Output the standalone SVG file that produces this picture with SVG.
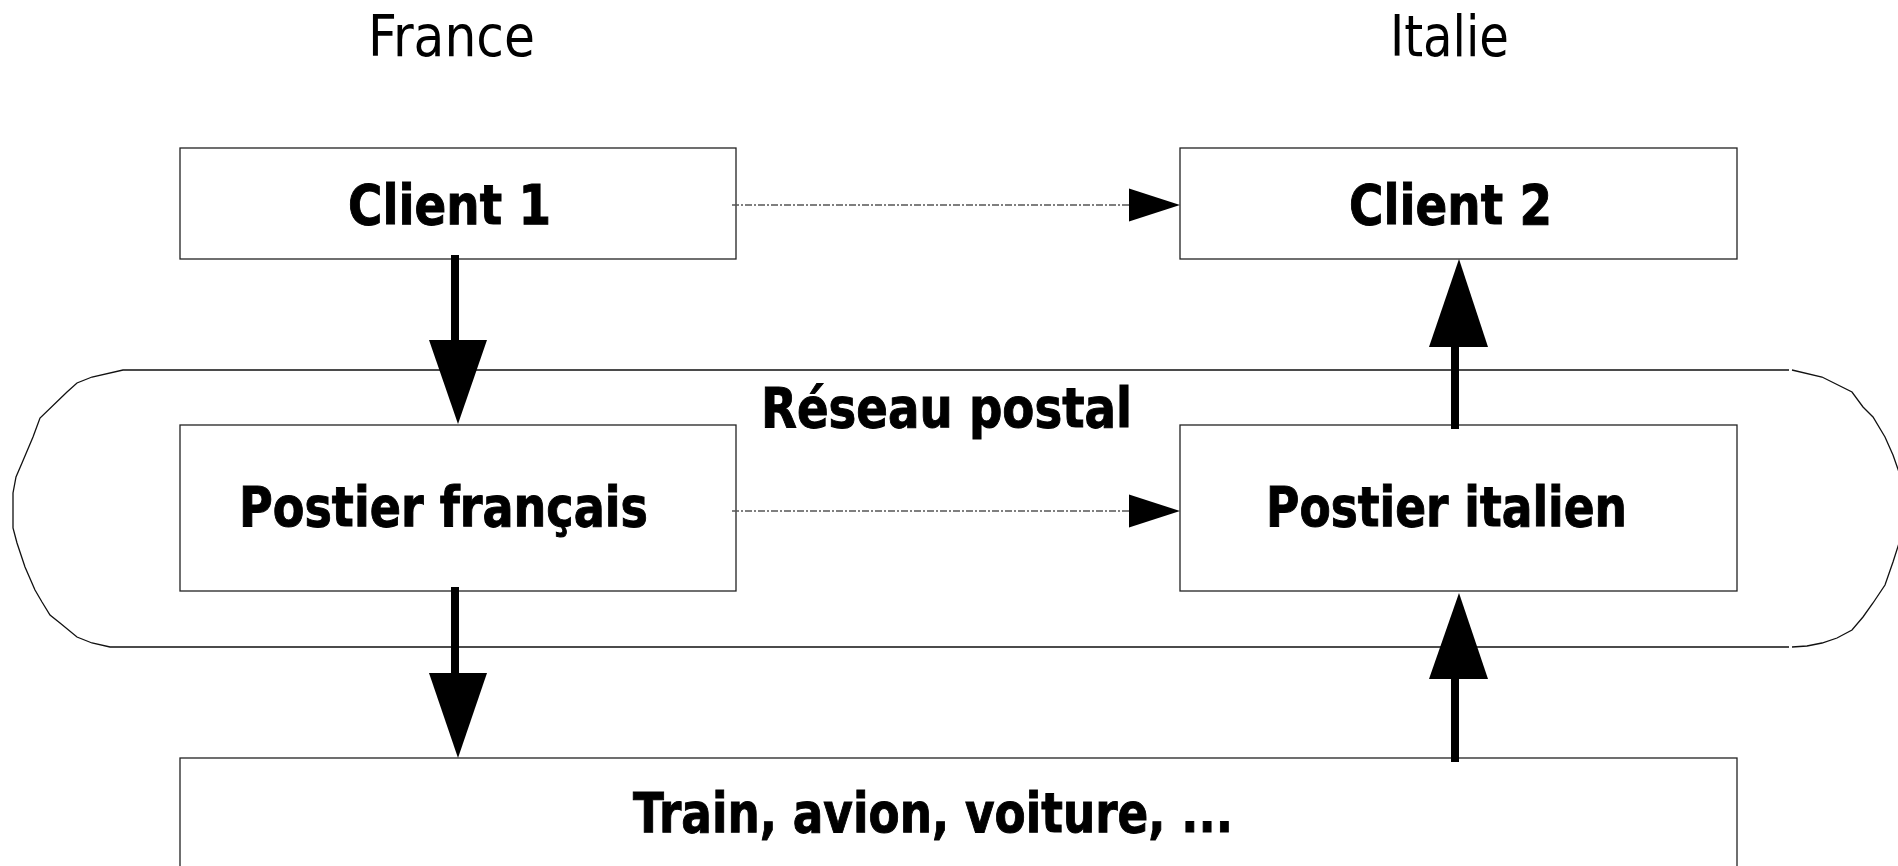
<svg xmlns="http://www.w3.org/2000/svg" width="1898" height="866" viewBox="0 0 1898 866">
<style>
.box{fill:#fff;stroke:#222;stroke-width:1.3}
.lbl{font-family:"DejaVu Sans","DejaVu Sans Condensed",sans-serif;font-weight:bold;font-size:55px;fill:#000;stroke:#000;stroke-width:1}
.hdr{font-family:"DejaVu Sans Condensed","DejaVu Sans",sans-serif;font-size:57px;fill:#000}
.thick{stroke:#000;stroke-width:8;fill:none}
.dash{stroke:#555;stroke-width:1.5;stroke-dasharray:7 2 2 2;fill:none}
.outline{fill:none;stroke:#111;stroke-width:1.3}
</style>
<rect width="1898" height="866" fill="#fff"/>
<text class="hdr" x="368" y="56" textLength="167" lengthAdjust="spacingAndGlyphs">France</text>
<text class="hdr" x="1390" y="56" textLength="119" lengthAdjust="spacingAndGlyphs">Italie</text>
<g id="reseau">
<polyline class="outline" points="1789,370 123,370 92,377 77,383 67,392 40,418 33,437 22,463 16,477 13,493 13,528 17,543 25,567 35,590 42,602 50,615 60,623 77,637 92,643 110,647 1789,647"/>
<polyline class="outline" points="1792,370 1822,377 1852,392 1863,407 1873,417 1885,437 1893,455 1900,475 1904,495 1904,520 1900,540 1893,562 1885,585 1873,603 1863,617 1852,630 1837,638 1822,643 1807,646 1792,647"/>
<text class="lbl" x="761" y="427" textLength="371" lengthAdjust="spacingAndGlyphs">Réseau postal</text>
</g>
<g id="client1">
<rect class="box" x="180" y="148" width="556" height="111"/>
<text class="lbl" x="348" y="224" textLength="203" lengthAdjust="spacingAndGlyphs">Client 1</text>
</g>
<g id="client2">
<rect class="box" x="1180" y="148" width="557" height="111"/>
<text class="lbl" x="1349" y="224" textLength="203" lengthAdjust="spacingAndGlyphs">Client 2</text>
</g>
<g id="postier-fr">
<rect class="box" x="180" y="425" width="556" height="166"/>
<text class="lbl" x="239" y="526" textLength="409" lengthAdjust="spacingAndGlyphs">Postier français</text>
</g>
<g id="postier-it">
<rect class="box" x="1180" y="425" width="557" height="166"/>
<text class="lbl" x="1266" y="526" textLength="361" lengthAdjust="spacingAndGlyphs">Postier italien</text>
</g>
<g id="transport">
<rect class="box" x="180" y="758" width="1557" height="130"/>
<text class="lbl" x="633" y="832" textLength="600" lengthAdjust="spacingAndGlyphs">Train, avion, voiture, ...</text>
</g>
<g id="connectors">
<line class="thick" x1="455" y1="255" x2="455" y2="345"/>
<polygon points="429,340 487,340 458,424"/>
<line class="thick" x1="455" y1="587" x2="455" y2="678"/>
<polygon points="429,673 487,673 458,758"/>
<line class="thick" x1="1455" y1="342" x2="1455" y2="429"/>
<polygon points="1429,347 1488,347 1459,259"/>
<line class="thick" x1="1455" y1="674" x2="1455" y2="762"/>
<polygon points="1429,679 1488,679 1459,593"/>
<line class="dash" x1="732" y1="205" x2="1132" y2="205"/>
<polygon points="1129,188.5 1129,221.5 1180,205"/>
<line class="dash" x1="732" y1="511" x2="1132" y2="511"/>
<polygon points="1129,494.5 1129,527.5 1180,511"/>
</g>
</svg>
